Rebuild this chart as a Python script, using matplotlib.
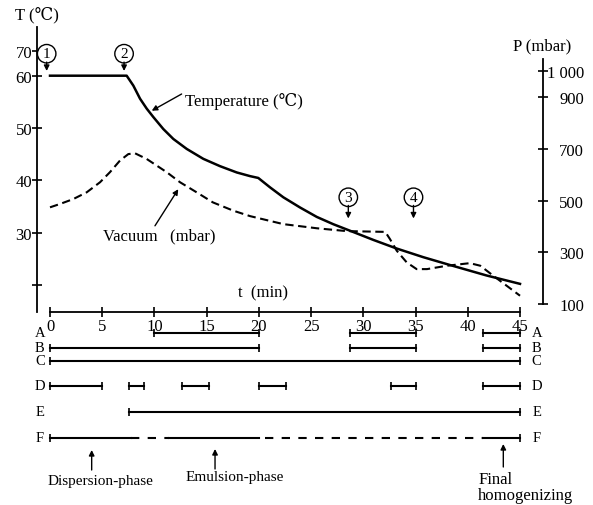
import matplotlib
matplotlib.use("Agg")
import matplotlib.pyplot as plt

plt.rcParams['font.family'] = ['Liberation Serif', 'DejaVu Serif', 'Noto Sans CJK JP']

# temperature curve (min, degC)
temp_t = [0, 7.34, 7.98, 8.62, 9.26, 9.89, 10.85, 11.81, 13.09, 14.68, 16.28, 17.88, 19.15, 19.94,
          21.06, 22.34, 23.94, 25.54, 27.13, 28.72, 30.96, 33.2, 35.74, 38.3, 41.8, 45]
temp_T = [60, 60, 58.1, 55.6, 53.7, 52.1, 49.8, 47.9, 46.0, 44.1, 42.7, 41.5, 40.8, 40.45,
          38.66, 36.75, 34.8, 33.0, 31.6, 30.36, 28.6, 26.95, 25.3, 23.8, 21.8, 20.2]

# vacuum curve (min, mbar)
vac_t = [0, 0.96, 2.23, 3.51, 4.79, 5.74, 6.7, 7.5, 8.14, 9.26, 11.17, 12.45, 14.04, 15.6,
         17.55, 19.15, 22.34, 25.54, 28.4, 32.1, 32.55, 33.2, 34.15, 35.1, 36.1, 38.0,
         40.2, 41.2, 42.45, 45]
vac_P = [474, 487, 506, 532, 571, 610, 655, 680, 683, 661, 610, 571, 532, 493,
         461, 440, 409, 393, 382, 379, 351, 306, 261, 235, 235, 248,
         258, 248, 209, 132]

x_ticks = [0, 5, 10, 15, 20, 25, 30, 35, 40, 45]
T_ticks = [64.8, 60, 50, 40, 30, 20]
T_labels = ['70', '60', '50', '40', '30', '']
P_ticks = [100, 300, 500, 700, 900, 1000]
P_labels = ['100', '300', '500', '700', '900', '1 000']

# operation schedule rows
rows = ['A', 'B', 'C', 'D', 'E', 'F']
segments = {
    'A': [(10, 20), (28.7, 35), (41.5, 45)],
    'B': [(0, 20), (28.7, 35), (41.5, 45)],
    'C': [(0, 45)],
    'D': [(0, 5), (7.6, 9), (12.6, 15.2), (20, 22.6), (32.6, 35), (41.5, 45)],
    'E': [(7.6, 45)],
    'F': [(0, 7.8), (11.4, 20), (41.5, 45)],
}
f_dashed = [(7.8, 11.4), (20.6, 41.5)]

markers = [('1', -0.32), ('2', 7.09), ('3', 28.56), ('4', 34.8)]

W, H = 593, 506
fig = plt.figure(figsize=(W / 100, H / 100), dpi=100)

# main chart
ax = fig.add_axes([37 / W, (H - 313) / H, 506 / W, 285 / H])
ax.set_xlim(-1.245, 47.2)
ax.set_ylim(14.82, 69.31)
ax2 = ax.twinx()
ax2.set_ylim(69.05, 1171.6)

for s in ['top', 'right']:
    ax.spines[s].set_visible(False)
for s in ['top', 'left', 'bottom']:
    ax2.spines[s].set_visible(False)
ax.spines['bottom'].set_bounds(0, 45)
ax2.spines['right'].set_bounds(100, 1048)
for sp in [ax.spines['left'], ax.spines['bottom'], ax2.spines['right']]:
    sp.set_linewidth(1.3)

ax.set_xticks(x_ticks)
ax.set_yticks(T_ticks, T_labels)
ax2.set_yticks(P_ticks, P_labels)
ax.tick_params(axis='x', direction='inout', length=7, width=1.2, pad=0.5, labelsize=12)
ax.tick_params(axis='y', direction='inout', length=7, width=1.2, pad=0, labelsize=12)
ax2.tick_params(axis='y', direction='inout', length=7, width=1.2, pad=26, labelsize=12)
for lbl in ax2.get_yticklabels():
    lbl.set_horizontalalignment('right')

ax.plot(temp_t, temp_T, color='k', lw=1.8, solid_joinstyle='round')
ax2.plot(vac_t, vac_P, color='k', lw=1.5, ls=(0, (4, 2.2)))

arrow = dict(arrowstyle='-|>', color='k', lw=1, mutation_scale=8, shrinkA=0, shrinkB=0)
for i, (num, xm) in enumerate(markers):
    if i < 2:
        yc, y0, y1 = 64.2, 62.6, 60.9
    else:
        yc, y0, y1 = 36.75, 35.2, 32.7
    ax.text(xm, yc, num, fontsize=11, ha='center', va='center',
            bbox=dict(boxstyle='circle,pad=0.18', fc='white', ec='k', lw=1))
    ax.annotate('', xy=(xm, y1), xytext=(xm, y0), arrowprops=arrow)

ax.text(12.93, 55.35, 'Temperature (℃)', fontsize=12, ha='left', va='center')
ax.annotate('', xy=(9.74, 53.3), xytext=(12.6, 56.5), arrowprops=arrow)
ax.text(5.07, 29.4, 'Vacuum   (mbar)', fontsize=12, ha='left', va='center')
ax.annotate('', xy=(12.28, 38.3), xytext=(10.05, 31.3), arrowprops=arrow)

ax.text(-3.35, 71.8, 'T (℃)', fontsize=12, ha='left', va='center')
ax.text(44.33, 65.7, 'P (mbar)', fontsize=12, ha='left', va='center')
ax.text(18.0, 18.64, 't  (min)', fontsize=12, ha='left', va='center')

# schedule bars below
axb = fig.add_axes([37 / W, 0, 506 / W, (H - 318) / H])
axb.set_xlim(-1.245, 47.2)
axb.set_ylim(H, 318)
axb.axis('off')

row_y = dict(zip(rows, [334, 349, 362, 387, 413, 439]))
for r in rows:
    y = row_y[r]
    for a, b in segments[r]:
        mk = '|' if r != 'F' else None
        axb.plot([a, b], [y, y], color='k', lw=1.5, marker=mk, ms=6, mew=1.2)
    axb.text(-0.96, y, r, fontsize=10.5, ha='center', va='center')
    axb.text(46.6, y, r, fontsize=10.5, ha='center', va='center')
yF = row_y['F']
for a, b in f_dashed:
    axb.plot([a, b], [yF, yF], color='k', lw=1.5, ls=(0, (4, 4)))
axb.plot([0, 45], [yF, yF], ls='none', marker='|', ms=6, mew=1.2, color='k')

axb.text(4.84, 482, 'Dispersion-phase', fontsize=11, ha='center', va='center')
axb.annotate('', xy=(3.99, 451), xytext=(3.99, 471), arrowprops=arrow)
axb.text(17.7, 478, 'Emulsion-phase', fontsize=11, ha='center', va='center')
axb.annotate('', xy=(15.8, 450), xytext=(15.8, 470), arrowprops=arrow)
axb.text(41.0, 472, 'Final\nhomogenizing', fontsize=12, ha='left', va='top', linespacing=1.0)
axb.annotate('', xy=(43.4, 445), xytext=(43.4, 468), arrowprops=arrow)

fig.savefig('out.png', dpi=100)
